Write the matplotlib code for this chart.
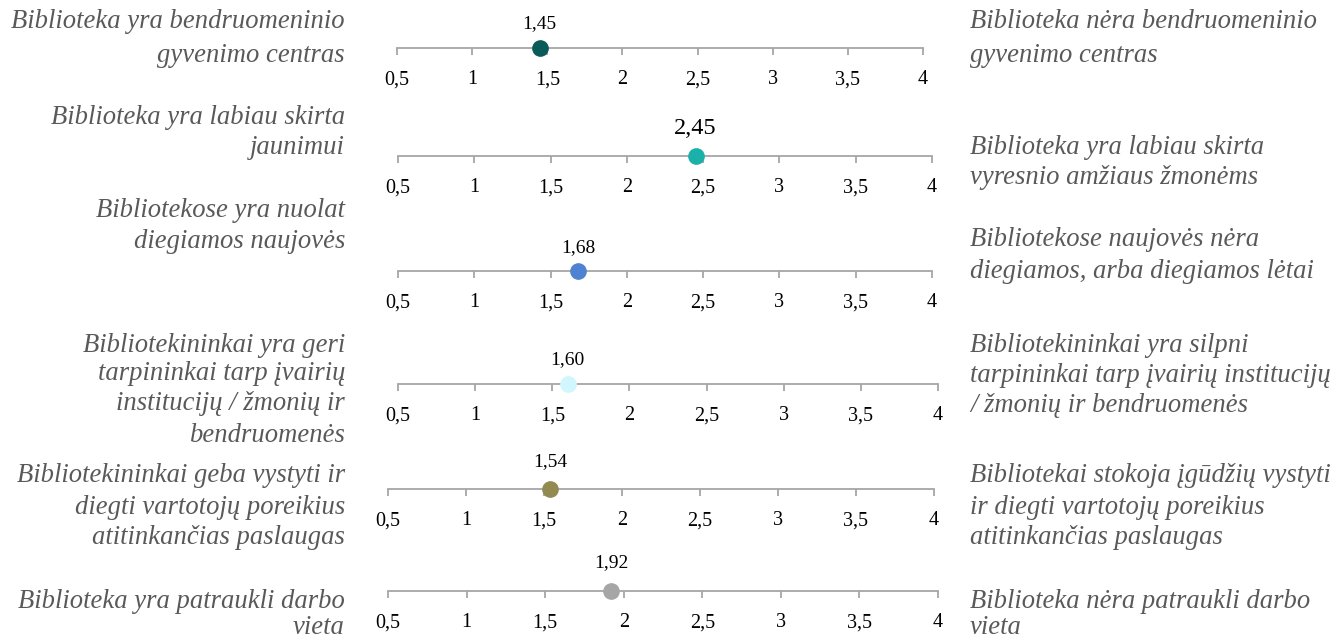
import matplotlib
matplotlib.use("Agg")
import matplotlib.pyplot as plt

# ---- data ----
values = [1.45, 2.45, 1.68, 1.60, 1.54, 1.92]
value_labels = ["1,45", "2,45", "1,68", "1,60", "1,54", "1,92"]
tick_values = [0.5, 1.0, 1.5, 2.0, 2.5, 3.0, 3.5, 4.0]
tick_labels = ["0,5", "1", "1,5", "2", "2,5", "3", "3,5", "4"]
left_texts = [
    ["Biblioteka yra bendruomeninio", "gyvenimo centras"],
    ["Biblioteka yra labiau skirta", "jaunimui"],
    ["Bibliotekose yra nuolat", "diegiamos naujovės"],
    ["Bibliotekininkai yra geri", "tarpininkai tarp įvairių", "institucijų / žmonių ir", "bendruomenės"],
    ["Bibliotekininkai geba vystyti ir", "diegti vartotojų poreikius", "atitinkančias paslaugas"],
    ["Biblioteka yra patraukli darbo", "vieta"],
]
right_texts = [
    ["Biblioteka nėra bendruomeninio", "gyvenimo centras"],
    ["Biblioteka yra labiau skirta", "vyresnio amžiaus žmonėms"],
    ["Bibliotekose naujovės nėra", "diegiamos, arba diegiamos lėtai"],
    ["Bibliotekininkai yra silpni", "tarpininkai tarp įvairių institucijų", "/ žmonių ir bendruomenės"],
    ["Bibliotekai stokoja įgūdžių vystyti", "ir diegti vartotojų poreikius", "atitinkančias paslaugas"],
    ["Biblioteka nėra patraukli darbo", "vieta"],
]
colors = ["#0b5a5a", "#1bb0aa", "#4f82d2", "#d2f6fd", "#938a52", "#a6a6a6"]

# ---- layout (pixels) ----
W, H = 1333, 639
axis_x0 = [397, 398, 398, 398, 388, 388]
axis_x1 = [923, 932, 932, 938, 934, 938]
axis_y = [48, 156, 271, 384, 489, 591]
label_off = [24, 28, 23, 24, 27, 28]
label_size = [14, 17.5, 14, 14, 14, 14]
left_y = [[22, 55], [117, 148], [210, 241], [346, 374, 403, 435], [476, 507, 538], [601, 627]]
right_y = [[22, 55], [147, 178], [240, 271], [346, 375, 405], [476, 507, 538], [601, 627]]

plt.rcParams['font.family'] = ['Liberation Serif', 'DejaVu Serif']

fig = plt.figure(figsize=(W / 100, H / 100), dpi=100)
fig.patch.set_facecolor("white")

line_col = "#a6a6a6"
text_col = "#595959"

for i, v in enumerate(values):
    ax = fig.add_axes([axis_x0[i] / W, (H - axis_y[i]) / H,
                       (axis_x1[i] - axis_x0[i]) / W, 20 / H])
    ax.set_xlim(tick_values[0], tick_values[-1])
    ax.set_ylim(0, 1)
    for s in ["top", "left", "right"]:
        ax.spines[s].set_visible(False)
    ax.spines["bottom"].set_color(line_col)
    ax.spines["bottom"].set_linewidth(1.3)
    ax.set_yticks([])
    ax.set_xticks(tick_values)
    ax.set_xticklabels(tick_labels)
    ax.tick_params(axis="x", direction="out", length=5, width=1.3, color=line_col,
                   pad=11, labelsize=14.5, labelcolor="black")
    ax.patch.set_alpha(0)
    ax.plot([v], [0], "o", color=colors[i], markersize=11, clip_on=False, zorder=5)
    ax.annotate(value_labels[i], (v, 0), xytext=(0, label_off[i] * 0.72),
                textcoords="offset points", ha="center", va="center",
                fontsize=label_size[i], color="black")

    for line, y in zip(left_texts[i], left_y[i]):
        fig.text(345 / W, 1 - y / H, line, ha="right", va="center",
                 fontsize=19.2, style="italic", color=text_col)
    for line, y in zip(right_texts[i], right_y[i]):
        fig.text(970 / W, 1 - y / H, line, ha="left", va="center",
                 fontsize=19.2, style="italic", color=text_col)

fig.savefig("out.png", dpi=100, facecolor="white")
